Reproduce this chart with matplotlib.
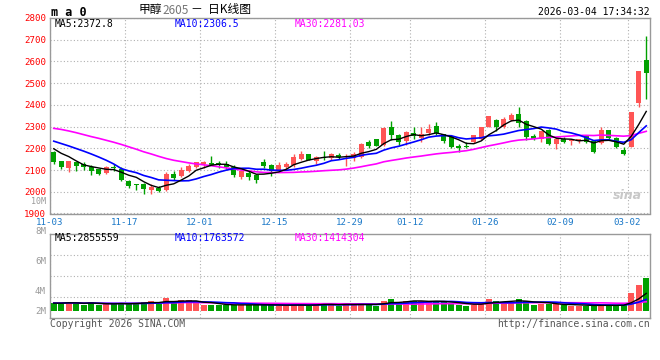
import numpy as np
import pandas as pd
import matplotlib
matplotlib.use("Agg")
import matplotlib.pyplot as plt
from matplotlib.patches import Ellipse

# ---------------- data ----------------
open_ = [2185, 2142, 2108, 2136, 2127, 2115, 2103, 2085, 2112, 2103,
         2051, 2035, 2036, 2009, 2018, 2006, 2080, 2074, 2094, 2112,
         2127, 2133, 2133, 2129, 2115, 2070, 2085, 2076, 2135, 2124,
         2097, 2115, 2121, 2152, 2173, 2142, 2162, 2155, 2170, 2158,
         2156, 2160, 2229, 2242, 2215, 2298, 2263, 2236, 2272, 2248,
         2272, 2305, 2265, 2257, 2212, 2212, 2230, 2245, 2300, 2332,
         2298, 2332, 2356, 2328, 2256, 2244, 2283, 2219, 2244, 2232,
         2235, 2256, 2233, 2225, 2283, 2247, 2192, 2207, 2407, 2606]
high = [2188, 2142, 2142, 2139, 2136, 2121, 2106, 2120, 2127, 2112,
        2053, 2036, 2039, 2036, 2027, 2089, 2094, 2112, 2129, 2139,
        2142, 2165, 2142, 2142, 2124, 2100, 2100, 2082, 2152, 2130,
        2135, 2135, 2173, 2188, 2176, 2167, 2188, 2177, 2179, 2173,
        2182, 2223, 2239, 2245, 2298, 2324, 2265, 2279, 2298, 2298,
        2310, 2321, 2268, 2260, 2218, 2230, 2263, 2300, 2351, 2336,
        2346, 2362, 2392, 2331, 2268, 2280, 2289, 2250, 2253, 2244,
        2244, 2260, 2238, 2298, 2286, 2250, 2204, 2368, 2556, 2716]
low = [2130, 2105, 2089, 2094, 2101, 2076, 2076, 2083, 2094, 2050,
       2018, 2006, 1988, 1991, 2000, 2003, 2056, 2067, 2091, 2109,
       2109, 2121, 2109, 2106, 2067, 2058, 2052, 2039, 2109, 2071,
       2094, 2106, 2115, 2148, 2145, 2130, 2148, 2145, 2152, 2117,
       2140, 2155, 2200, 2209, 2212, 2239, 2215, 2215, 2242, 2230,
       2260, 2262, 2225, 2203, 2185, 2200, 2224, 2240, 2297, 2278,
       2295, 2325, 2298, 2238, 2240, 2230, 2215, 2198, 2225, 2215,
       2225, 2225, 2180, 2220, 2238, 2200, 2170, 2204, 2389, 2428]
close = [2136, 2112, 2142, 2117, 2112, 2097, 2080, 2112, 2109, 2053,
         2027, 2032, 2011, 2024, 2003, 2080, 2065, 2098, 2117, 2136,
         2136, 2124, 2121, 2115, 2076, 2094, 2067, 2052, 2117, 2097,
         2124, 2127, 2158, 2173, 2148, 2158, 2155, 2173, 2161, 2162,
         2172, 2218, 2212, 2212, 2294, 2262, 2230, 2274, 2257, 2266,
         2289, 2269, 2233, 2206, 2200, 2207, 2260, 2298, 2347, 2298,
         2336, 2353, 2316, 2250, 2244, 2278, 2219, 2244, 2231, 2238,
         2241, 2230, 2183, 2283, 2247, 2207, 2175, 2365, 2556, 2547]
volume = [1220000, 1220000, 1380000, 1220000, 1000000, 1380000, 1000000, 1060000, 1110000, 1220000,
          1220000, 1220000, 1380000, 1540000, 1220000, 2020000, 1220000, 1700000, 1700000, 1220000,
          1000000, 950000, 950000, 950000, 950000, 950000, 950000, 950000, 950000, 950000,
          840000, 840000, 1000000, 1000000, 840000, 1000000, 1220000, 1060000, 790000, 1060000,
          950000, 1220000, 1060000, 840000, 1540000, 1860000, 1380000, 1540000, 1540000, 1540000,
          1540000, 1540000, 1380000, 1060000, 1000000, 840000, 1000000, 1380000, 1860000, 1540000,
          1380000, 1380000, 1860000, 1540000, 950000, 1060000, 1060000, 1060000, 950000, 840000,
          840000, 840000, 840000, 1000000, 840000, 840000, 1000000, 2750000, 4050000, 5200000]

# moving-average lines at the left edge (they use days before 11-03)
ma5_head = [2198, 2177, 2162, 2142]
ma10_head = [2233, 2222, 2211, 2199, 2187, 2174, 2160, 2145, 2128]
ma30_head = [2292, 2287, 2280, 2272, 2263, 2254, 2246, 2237, 2228, 2218,
             2207, 2196, 2184, 2174, 2163, 2153, 2145, 2139, 2133, 2128,
             2124, 2120, 2115, 2110, 2105, 2100, 2096, 2092, 2089]

tick_dates = ["11-03", "11-17", "12-01", "12-15", "12-29", "01-12", "01-26", "02-09", "03-02"]
price_ticks = [1900, 2000, 2100, 2200, 2300, 2400, 2500, 2600, 2700, 2800]
vol_labels = ["10M", "8M", "6M", "4M", "2M"]

# trading calendar (CN holidays: new year, spring festival)
holidays = pd.to_datetime(["2026-01-01", "2026-01-02", "2026-02-16", "2026-02-17", "2026-02-18",
                           "2026-02-19", "2026-02-20", "2026-02-23"])
days = pd.bdate_range("2025-11-03", "2026-03-04")
days = days[~days.isin(holidays)]
day_labels = list(days.strftime("%m-%d"))

n = len(close)
x = np.arange(n)
o = np.array(open_); h = np.array(high); l = np.array(low); c = np.array(close)
v = np.array(volume)

cs = pd.Series(close, dtype=float)
ma5 = cs.rolling(5).mean().to_numpy(); ma5[:4] = ma5_head
ma10 = cs.rolling(10).mean().to_numpy(); ma10[:9] = ma10_head
ma30 = cs.rolling(30).mean().to_numpy(); ma30[:29] = ma30_head

vs = pd.Series(volume, dtype=float)
vma5 = vs.rolling(5, min_periods=1).mean()
vma10 = vs.rolling(10, min_periods=1).mean()
vma30 = vs.rolling(30, min_periods=1).mean()

RED = "#ff5555"
GREEN = "#00a000"
up = c >= o
colors = np.where(up, RED, GREEN)

W, H = 660, 360
def fx(px): return px / W
def fy(py): return 1 - py / H

FS = 6.6
plt.rcParams['font.family'] = ['DejaVu Sans Mono']
fig = plt.figure(figsize=(6.6, 3.6), dpi=100)
fig.patch.set_facecolor("white")

grid_kw = dict(color="#b0b0b0", linestyle=(0, (1, 2)), linewidth=0.8)

# ---------------- price panel ----------------
ax = fig.add_axes([fx(50), fy(213.5), fx(600), 195.5 / H])
ax.set_xlim(-0.5, n - 0.5)
ax.set_ylim(1900, 2800)

body_h = np.abs(c - o)
body_h = np.where(body_h < 1.5, 1.5, body_h)
ax.vlines(x, l, h, colors=colors, linewidth=1, zorder=3)
ax.bar(x, body_h, bottom=np.minimum(o, c), width=0.7, color=colors, zorder=4, linewidth=0)

ax.plot(x, ma30, color="#ff00ff", linewidth=1.2, zorder=5)
ax.plot(x, ma10, color="#0000ff", linewidth=1.2, zorder=5)
ax.plot(x, ma5, color="black", linewidth=1.0, zorder=6)

tick_pos = [day_labels.index(d) - 0.5 for d in tick_dates]
ax.set_xticks(tick_pos)
ax.set_xticklabels(tick_dates, color="#1a78c8", fontsize=FS)
ax.set_yticks(price_ticks)
ax.set_yticklabels([str(t) for t in price_ticks], color="red", fontsize=FS)
ax.tick_params(axis="y", length=0, pad=3)
ax.tick_params(axis="x", length=0, pad=3.4)
ax.grid(True, **grid_kw)
for s in ax.spines.values():
    s.set_color("#999999")
    s.set_linewidth(1)

# ---------------- volume panel ----------------
vax = fig.add_axes([fx(50), fy(317.5), fx(600), 83.5 / H])
vax.set_xlim(-0.5, n - 0.5)
vtop, vbot = 12.17e6, -1.05e6
vax.set_ylim(vbot, vtop)
vax.bar(x, v, width=0.8, color=colors, linewidth=0, zorder=3)
vax.plot(x, vma30, color="#ff00ff", linewidth=1.2, zorder=4)
vax.plot(x, vma10, color="#0000ff", linewidth=1.2, zorder=4)
vax.plot(x, vma5, color="black", linewidth=1.0, zorder=5)
vax.set_xticks(tick_pos)
vax.set_xticklabels([])
span = vtop - vbot
vax.set_yticks([vbot + span * q for q in (0.25, 0.5, 0.75)])
vax.set_yticklabels([])
vax.tick_params(length=0)
vax.grid(True, **grid_kw)
for s in vax.spines.values():
    s.set_color("#999999")
    s.set_linewidth(1)

for lab, py in zip(vol_labels, [202, 232, 261, 291, 311]):
    fig.text(fx(46), fy(py), lab, ha="right", va="center", fontsize=FS if lab != "10M" else 6,
             color="#999999")

# ---------------- texts ----------------
fig.text(fx(51), fy(12), "m a 0", ha="left", va="center", fontsize=8.5, fontweight="bold")
cjk = ["Noto Sans CJK SC", "DejaVu Sans"]
fig.text(fx(162), fy(10), "甲醇", ha="right", va="center", fontsize=8.5, family=cjk)
fig.text(fx(162), fy(10), "2605", ha="left", va="center", fontsize=8.5, color="#777777", family=cjk)
fig.text(fx(191), fy(10), "－  日K线图", ha="left", va="center", fontsize=8.5, family=cjk)
fig.text(fx(650), fy(12), "2026-03-04 17:34:32", ha="right", va="center", fontsize=7)

fig.text(fx(55), fy(24), "MA5:2372.8", ha="left", va="center", fontsize=7, color="black")
fig.text(fx(175), fy(24), "MA10:2306.5", ha="left", va="center", fontsize=7, color="#0000ff")
fig.text(fx(295), fy(24), "MA30:2281.03", ha="left", va="center", fontsize=7, color="#ff00ff")

fig.text(fx(55), fy(238), "MA5:2855559", ha="left", va="center", fontsize=7, color="black")
fig.text(fx(175), fy(238), "MA10:1763572", ha="left", va="center", fontsize=7, color="#0000ff")
fig.text(fx(295), fy(238), "MA30:1414304", ha="left", va="center", fontsize=7, color="#ff00ff")

fig.text(fx(50), fy(324), "Copyright 2026 SINA.COM", ha="left", va="center", fontsize=7, color="#555555")
fig.text(fx(650), fy(324), "http://finance.sina.com.cn", ha="right", va="center", fontsize=7, color="#555555")

# sina watermark
fig.add_artist(Ellipse((fx(631), fy(189)), fx(12), 9 / H, transform=fig.transFigure,
                       facecolor="#f6c8c8", edgecolor="none", zorder=0))
fig.text(fx(627), fy(196), "sina", ha="center", va="center", fontsize=9, color="#c8c8c8",
         fontweight="bold", style="italic", family="DejaVu Sans")

fig.savefig("out.png", dpi=100)
